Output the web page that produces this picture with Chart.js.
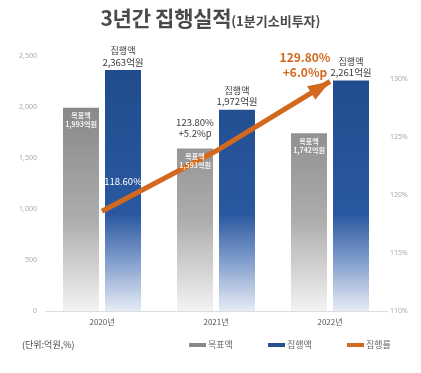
<!DOCTYPE html>
<html>
<head>
<meta charset="utf-8">
<script src="https://cdn.jsdelivr.net/npm/chart.js@4.4.1/dist/chart.umd.min.js"></script>
<style>
  body { margin: 0; background: #fff; font-family: "Noto Sans CJK KR", "Noto Sans", sans-serif; }
  #wrap { position: relative; width: 421px; height: 373px; overflow: hidden; }
  #chart { position: absolute; left: 0; top: 0; }
  .title { position: absolute; top: 2px; left: 0; width: 421px; text-align: center; color: #4a4a4a; font-weight: 700; font-size: 21px; letter-spacing: -0.3px; }
  .title small { font-size: 13px; letter-spacing: 0; }
  .unit { position: absolute; left: 22px; top: 338px; font-size: 9px; color: #444; }
  .legend { position: absolute; top: 338px; font-size: 9px; color: #666; display: flex; align-items: center; }
  .legend i { display: inline-block; width: 17px; height: 4px; margin-right: 2px; }
</style>
</head>
<body>
<div id="wrap">
  <canvas id="chart" width="421" height="373"></canvas>
  <div class="title">3년간 집행실적<small>(1분기소비투자)</small></div>
  <div class="unit">(단위:억원,%)</div>
  <div class="legend" style="left:189px"><i style="background:#8a8887"></i>목표액</div>
  <div class="legend" style="left:268px"><i style="background:#27508f"></i>집행액</div>
  <div class="legend" style="left:347px"><i style="background:#d2691e"></i>집행률</div>
</div>
<script>
// 데이터
const years = ['2020년', '2021년', '2022년'];
const targetAmounts = [1993, 1593, 1742];   // 목표액 (억원)
const spentAmounts = [2363, 1972, 2261];    // 집행액 (억원)
const spendRates = [118.6, 123.8, 129.8];   // 집행률 (%)

const orange = '#d2691e';

function fmt(v) {
    return v.toLocaleString('en-US');
}

// 막대 그라데이션
function grayGradient(context) {
    const area = context.chart.chartArea;
    if (!area) return '#999';
    const g = context.chart.ctx.createLinearGradient(0, area.top, 0, area.bottom);
    g.addColorStop(0, '#7a7877');
    g.addColorStop(0.2, '#8a8887');
    g.addColorStop(0.65, '#b0aead');
    g.addColorStop(1, '#f3f3f3');
    return g;
}

function blueGradient(context) {
    const area = context.chart.chartArea;
    if (!area) return '#27508f';
    const g = context.chart.ctx.createLinearGradient(0, area.top, 0, area.bottom);
    g.addColorStop(0, '#1f4b8a');
    g.addColorStop(0.62, '#2a58a0');
    g.addColorStop(0.8, '#7f9ccb');
    g.addColorStop(1, '#e6ecf6');
    return g;
}

// 라벨과 화살표
const labelPlugin = {
    id: 'labelPlugin',
    afterDatasetsDraw(chart) {
        const ctx = chart.ctx;
        const gray = chart.getDatasetMeta(0).data;
        const blue = chart.getDatasetMeta(1).data;
        const line = chart.getDatasetMeta(2).data;
        ctx.save();
        ctx.textAlign = 'center';
        ctx.textBaseline = 'middle';

        // 화살표 머리
        const p1 = line[1], p2 = line[2];
        const a = Math.atan2(p2.y - p1.y, p2.x - p1.x);
        const L = 22, W = 8;
        const bx = p2.x - L * Math.cos(a), by = p2.y - L * Math.sin(a);
        ctx.fillStyle = orange;
        ctx.beginPath();
        ctx.moveTo(p2.x, p2.y);
        ctx.lineTo(bx - W * Math.sin(a), by + W * Math.cos(a));
        ctx.lineTo(bx + W * Math.sin(a), by - W * Math.cos(a));
        ctx.closePath();
        ctx.fill();

        years.forEach((y, i) => {
            // 집행액 라벨
            ctx.fillStyle = '#3a3a3a';
            ctx.font = '9px "Noto Sans CJK KR"';
            ctx.fillText('집행액', blue[i].x, blue[i].y - 19);
            ctx.font = '9.5px "Noto Sans CJK KR"';
            ctx.fillText(fmt(spentAmounts[i]) + '억원', blue[i].x, blue[i].y - 8);
            // 목표액 라벨 (막대 안)
            ctx.fillStyle = 'rgba(255,255,255,0.9)';
            ctx.font = 'bold 7px "Noto Sans CJK KR"';
            ctx.fillText('목표액', gray[i].x, gray[i].y + 8);
            ctx.fillText(fmt(targetAmounts[i]) + '억원', gray[i].x, gray[i].y + 17);
        });

        // 집행률 라벨
        ctx.fillStyle = '#fff';
        ctx.font = '9.5px "Noto Sans CJK KR"';
        ctx.fillText(spendRates[0].toFixed(2) + '%', blue[0].x, line[0].y - 30);

        ctx.fillStyle = '#3a3a3a';
        ctx.font = '9.5px "Noto Sans CJK KR"';
        ctx.fillText(spendRates[1].toFixed(2) + '%', gray[1].x, gray[1].y - 26);
        ctx.fillText('+' + (spendRates[1] - spendRates[0]).toFixed(1) + '%p', gray[1].x, gray[1].y - 15);

        ctx.fillStyle = orange;
        ctx.font = 'bold 12px "Noto Sans CJK KR"';
        ctx.fillText(spendRates[2].toFixed(2) + '%', 305, 57);
        ctx.fillText('+' + (spendRates[2] - spendRates[1]).toFixed(1) + '%p', 305, 72);
        ctx.restore();
    }
};

new Chart(document.getElementById('chart'), {
    type: 'bar',
    data: {
        labels: years,
        datasets: [
            {
                label: '목표액',
                data: targetAmounts,
                backgroundColor: grayGradient,
                yAxisID: 'y',
                order: 2,
                categoryPercentage: 0.737,
                barPercentage: 0.857
            },
            {
                label: '집행액',
                data: spentAmounts,
                backgroundColor: blueGradient,
                yAxisID: 'y',
                order: 2,
                categoryPercentage: 0.737,
                barPercentage: 0.857
            },
            {
                type: 'line',
                label: '집행률',
                data: spendRates,
                borderColor: orange,
                borderWidth: 5,
                pointRadius: 0,
                tension: 0,
                yAxisID: 'y1',
                order: 0
            }
        ]
    },
    options: {
        responsive: false,
        animation: false,
        layout: { padding: { top: 56, left: 0, right: 0, bottom: 0 } },
        plugins: {
            legend: { display: false },
            tooltip: { enabled: false }
        },
        scales: {
            x: {
                grid: { display: false, drawTicks: false },
                border: { color: '#dddddd', width: 1 },
                ticks: { color: '#555', font: { size: 8, family: 'Noto Sans CJK KR' }, padding: 6 },
                afterFit(scale) { scale.height = 62; }
            },
            y: {
                position: 'left',
                min: 0,
                max: 2500,
                grid: { display: false, drawTicks: false },
                border: { display: false },
                ticks: {
                    stepSize: 500,
                    color: '#aaa',
                    font: { size: 7, family: 'Noto Sans' },
                    padding: 8,
                    callback: v => fmt(v)
                },
                afterFit(scale) { scale.width = 45; }
            },
            y1: {
                position: 'right',
                min: 110,
                max: 132,
                grid: { display: false, drawTicks: false },
                border: { display: false },
                ticks: {
                    stepSize: 5,
                    color: '#aaa',
                    font: { size: 7, family: 'Noto Sans' },
                    padding: 3,
                    callback: v => (v % 5 === 0 ? v + '%' : '')
                },
                afterFit(scale) { scale.width = 34; }
            }
        }
    },
    plugins: [labelPlugin]
});
</script>
</body>
</html>
